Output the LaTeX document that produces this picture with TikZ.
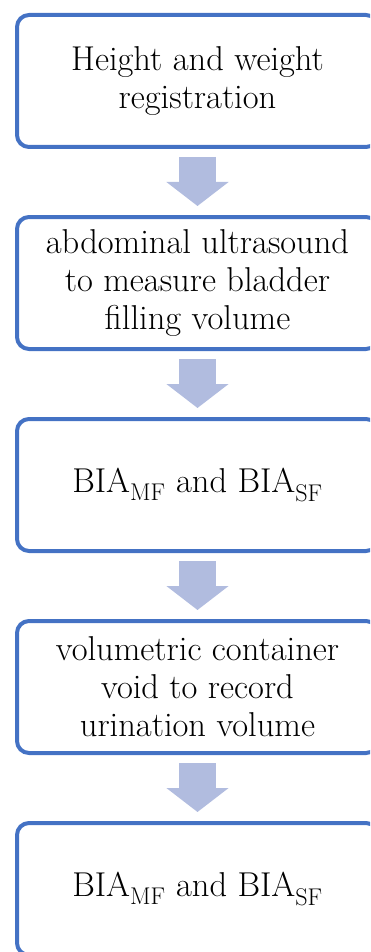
\documentclass[tikz,border=0pt]{standalone}
\usepackage{tikz}
\usetikzlibrary{positioning,arrows.meta}
\definecolor{boxblue}{HTML}{4472C4}
\definecolor{arrowblue}{HTML}{B1BCDF}

\begin{document}
\begin{tikzpicture}[x=1pt,y=1pt,node distance=70pt,
		stage/.style={draw=boxblue,line width=4pt,rounded corners=12pt,minimum width=361pt,minimum height=132pt,outer sep=0pt,align=center,font=\fontsize{34.5}{38}\selectfont},
		flow/.style={draw=arrowblue,line width=37pt,-{Triangle[width=61pt,length=24pt]},shorten <=10pt,shorten >=11pt}]
			\useasboundingbox (0,0) rectangle (370,-952);
			\clip (0,0) rectangle (370,-952);
			\node[stage] (height) at (197.5,-81) {Height and weight\\registration};
			\node[stage,below=of height] (ultra) {abdominal ultrasound\\to measure bladder\\filling volume};
			\node[stage,below=of ultra] (biaA) {BIA\textsubscript{MF} and BIA\textsubscript{SF}};
			\node[stage,below=of biaA] (void) {volumetric container\\void to record\\urination volume};
			\node[stage,below=of void] (biaB) {BIA\textsubscript{MF} and BIA\textsubscript{SF}};
			\draw[flow] (height) -- (ultra);
			\draw[flow] (ultra) -- (biaA);
			\draw[flow] (biaA) -- (void);
			\draw[flow] (void) -- (biaB);
		\end{tikzpicture}
\end{document}
